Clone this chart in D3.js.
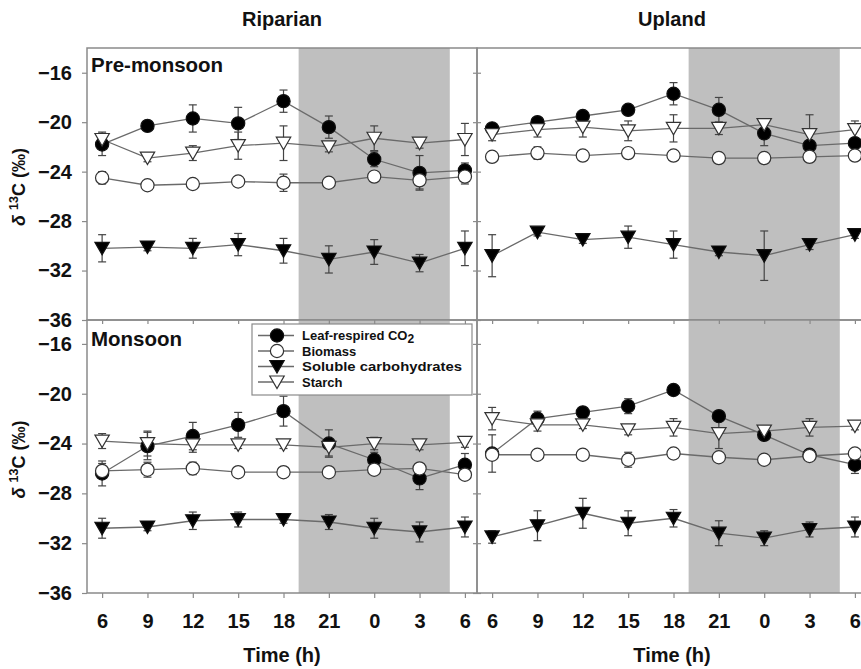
<!DOCTYPE html>
<html>
<head>
<meta charset="utf-8">
<script src="https://cdn.jsdelivr.net/npm/d3@7"></script>
<style>
  html, body { margin: 0; padding: 0; background: #fff; }
  svg { display: block; font-family: Arial, "Liberation Sans", sans-serif; }
</style>
</head>
<body>
<svg id="chart" width="861" height="669"></svg>
<script>
// ---- Data ----
const hours = [6, 9, 12, 15, 18, 21, 24, 27, 30];
const tickLabels = ["6", "9", "12", "15", "18", "21", "0", "3", "6"];
const yTicks = [-16, -20, -24, -28, -32, -36];
const nightStart = 19, nightEnd = 29;
const siteNames = ["Riparian", "Upland"];
const seasonNames = ["Pre-monsoon", "Monsoon"];
const seriesNames = ["Leaf-respired CO2", "Biomass", "Soluble carbohydrates", "Starch"];

// Riparian, pre-monsoon
const ripPreLeaf   = [-21.8, -20.3, -19.7, -20.1, -18.3, -20.4, -23.0, -24.1, -23.9];
const ripPreLeafSE = [0.9, 0.4, 1.1, 1.3, 0.9, 0.9, 0.6, 1.4, 0.6];
const ripPreBio    = [-24.5, -25.1, -25.0, -24.8, -24.9, -24.9, -24.4, -24.7, -24.4];
const ripPreBioSE  = [0.5, 0.3, 0.3, 0.4, 0.7, 0.3, 0.4, 0.7, 0.6];
const ripPreSol    = [-30.2, -30.1, -30.2, -29.9, -30.4, -31.1, -30.5, -31.4, -30.2];
const ripPreSolSE  = [1.1, 0.3, 0.8, 0.9, 1.0, 1.1, 1.0, 0.7, 1.4];
const ripPreSta    = [-21.4, -22.9, -22.5, -21.9, -21.7, -22.0, -21.3, -21.7, -21.4];
const ripPreStaSE  = [0.6, 0.3, 0.6, 1.1, 1.4, 0.4, 1.0, 0.4, 1.3];

// Upland, pre-monsoon
const uplPreLeaf   = [-20.5, -20.0, -19.5, -19.0, -17.7, -19.0, -20.9, -21.9, -21.7];
const uplPreLeafSE = [0.3, 0.3, 0.3, 0.4, 0.9, 1.0, 1.0, 0.4, 0.3];
const uplPreBio    = [-22.8, -22.5, -22.7, -22.5, -22.7, -22.9, -22.9, -22.8, -22.7];
const uplPreBioSE  = [0.4, 0.5, 0.4, 0.4, 0.4, 0.4, 0.4, 0.4, 0.4];
const uplPreSol    = [-30.8, -28.9, -29.5, -29.3, -29.9, -30.5, -30.8, -29.9, -29.1];
const uplPreSolSE  = [1.7, 0.3, 0.3, 0.9, 1.1, 0.3, 2.0, 0.4, 0.3];
const uplPreSta    = [-21.0, -20.6, -20.4, -20.7, -20.5, -20.5, -20.2, -21.0, -20.6];
const uplPreStaSE  = [0.5, 0.6, 0.8, 0.8, 1.1, 0.5, 0.3, 1.6, 0.7];

// Riparian, monsoon
const ripMonLeaf   = [-26.4, -24.2, -23.4, -22.5, -21.4, -24.0, -25.3, -26.8, -25.7];
const ripMonLeafSE = [1.0, 1.1, 1.1, 1.0, 1.2, 1.1, 0.6, 0.9, 0.9];
const ripMonBio    = [-26.2, -26.1, -26.0, -26.3, -26.3, -26.3, -26.1, -26.0, -26.5];
const ripMonBioSE  = [0.6, 0.6, 0.5, 0.4, 0.3, 0.3, 0.3, 0.3, 0.3];
const ripMonSol    = [-30.8, -30.7, -30.2, -30.1, -30.1, -30.3, -30.8, -31.1, -30.7];
const ripMonSolSE  = [0.8, 0.3, 0.7, 0.6, 0.3, 0.6, 0.8, 0.8, 0.8];
const ripMonSta    = [-23.8, -24.0, -24.1, -24.1, -24.1, -24.3, -24.0, -24.1, -23.9];
const ripMonStaSE  = [0.6, 1.0, 0.6, 0.3, 0.3, 0.7, 0.5, 0.4, 0.4];

// Upland, monsoon
const uplMonLeaf   = [-24.8, -22.0, -21.5, -21.0, -19.7, -21.8, -23.3, -24.9, -25.7];
const uplMonLeafSE = [1.5, 0.6, 0.4, 0.6, 0.4, 0.4, 0.4, 0.4, 0.7];
const uplMonBio    = [-24.9, -24.9, -24.9, -25.3, -24.8, -25.1, -25.3, -25.0, -24.8];
const uplMonBioSE  = [0.3, 0.3, 0.3, 0.6, 0.4, 0.3, 0.3, 0.3, 0.3];
const uplMonSol    = [-31.5, -30.6, -29.6, -30.4, -30.0, -31.2, -31.6, -30.9, -30.7];
const uplMonSolSE  = [0.5, 1.2, 1.2, 1.0, 0.7, 1.0, 0.6, 0.6, 0.8];
const uplMonSta    = [-22.0, -22.5, -22.5, -22.9, -22.7, -23.2, -23.0, -22.7, -22.6];
const uplMonStaSE  = [0.9, 0.5, 0.3, 0.4, 0.7, 1.2, 0.3, 0.7, 0.3];

// ---- Build panels ----
function mk(leaf, leafSE, bio, bioSE, sol, solSE, sta, staSE) {
  return [[leaf, leafSE], [bio, bioSE], [sol, solSE], [sta, staSE]];
}
const panelData = [
  [mk(ripPreLeaf, ripPreLeafSE, ripPreBio, ripPreBioSE, ripPreSol, ripPreSolSE, ripPreSta, ripPreStaSE),
   mk(uplPreLeaf, uplPreLeafSE, uplPreBio, uplPreBioSE, uplPreSol, uplPreSolSE, uplPreSta, uplPreStaSE)],
  [mk(ripMonLeaf, ripMonLeafSE, ripMonBio, ripMonBioSE, ripMonSol, ripMonSolSE, ripMonSta, ripMonStaSE),
   mk(uplMonLeaf, uplMonLeafSE, uplMonBio, uplMonBioSE, uplMonSol, uplMonSolSE, uplMonSta, uplMonStaSE)]
];

const svg = d3.select("#chart");
const colX = [87, 477];
const panelW = 390;
const rowY = [[48, 320], [320, 593]];

const x = d3.scaleLinear().domain([5, 30.8]).range([0, panelW]);
const yScales = [
  d3.scaleLinear().domain([-36, -14]).range([320, 48]),
  d3.scaleLinear().domain([-36, -14]).range([593, 319])
];

const frameCol = "#8a8a8a";
const lineCol = "#6a6a6a";
const errCol = "#444";
const shadeCol = "#bfbfbf";

const styles = [
  { type: "circle", fill: "#000", stroke: "#111" },
  { type: "circle", fill: "#fff", stroke: "#333" },
  { type: "tri", fill: "#000", stroke: "#111" },
  { type: "tri", fill: "#fff", stroke: "#333" }
];
const drawOrder = [0, 2, 1, 3];

function drawMarker(g, st, cx, cy) {
  if (st.type === "circle") {
    g.append("circle").attr("cx", cx).attr("cy", cy).attr("r", 6.6)
      .attr("fill", st.fill).attr("stroke", st.stroke).attr("stroke-width", 1.2);
  } else {
    g.append("path")
      .attr("d", `M${cx - 7.2},${cy - 6} L${cx + 7.2},${cy - 6} L${cx},${cy + 6.5} Z`)
      .attr("fill", st.fill).attr("stroke", st.stroke).attr("stroke-width", 1.2)
      .attr("stroke-linejoin", "miter");
  }
}

for (let r = 0; r < 2; r++) {
  const y = yScales[r];
  const [top, bot] = rowY[r];
  for (let c = 0; c < 2; c++) {
    const x0 = colX[c];
    const g = svg.append("g").attr("transform", `translate(${x0},0)`);
    g.append("rect")
      .attr("x", x(nightStart)).attr("y", top)
      .attr("width", x(nightEnd) - x(nightStart)).attr("height", bot - top)
      .attr("fill", shadeCol);

    const series = panelData[r][c];
    const line = d3.line().x((d, i) => x(hours[i])).y(d => y(d));
    drawOrder.forEach(s => {
      g.append("path").datum(series[s][0])
        .attr("d", line).attr("fill", "none")
        .attr("stroke", lineCol).attr("stroke-width", 1.3);
    });
    drawOrder.forEach(s => {
      const vals = series[s][0], se = series[s][1];
      vals.forEach((v, i) => {
        const cx = x(hours[i]);
        const y1 = y(v + se[i]), y2 = y(v - se[i]);
        g.append("line").attr("x1", cx).attr("x2", cx).attr("y1", y1).attr("y2", y2)
          .attr("stroke", errCol).attr("stroke-width", 1.2);
        [y1, y2].forEach(yy => g.append("line")
          .attr("x1", cx - 4).attr("x2", cx + 4).attr("y1", yy).attr("y2", yy)
          .attr("stroke", errCol).attr("stroke-width", 1.2));
      });
    });
    drawOrder.forEach(s => {
      const vals = series[s][0];
      vals.forEach((v, i) => drawMarker(g, styles[s], x(hours[i]), y(v)));
    });

    if (c === 0) {
      const ax = d3.axisLeft(y).tickValues(yTicks).tickSize(4).tickFormat("");
      const ag = g.append("g").attr("transform", `translate(${panelW},0)`).call(ax);
      ag.select(".domain").remove();
      ag.selectAll("line").attr("stroke", frameCol).attr("stroke-width", 1.2);
    } else {
      const ax = d3.axisRight(y).tickValues(yTicks).tickSize(4).tickFormat("");
      const ag = g.append("g").call(ax);
      ag.select(".domain").remove();
      ag.selectAll("line").attr("stroke", frameCol).attr("stroke-width", 1.2);
    }
    if (r === 1) {
      const ax = d3.axisBottom(x).tickValues(hours).tickSize(4).tickFormat("");
      const ag = g.append("g").attr("transform", `translate(0,${top})`).call(ax);
      ag.select(".domain").remove();
      ag.selectAll("line").attr("stroke", frameCol).attr("stroke-width", 1.2);
      const bx = d3.axisBottom(x).tickValues(hours).tickSize(5).tickPadding(16)
        .tickFormat((d, i) => tickLabels[i]);
      const bg = g.append("g").attr("transform", `translate(0,${bot})`).call(bx);
      bg.select(".domain").remove();
      bg.selectAll("line").attr("stroke", frameCol).attr("stroke-width", 1.2);
      bg.selectAll("text").attr("font-size", 20).attr("font-weight", "bold")
        .attr("fill", "#111").attr("font-family", "Arial, 'Liberation Sans', sans-serif");
      g.append("text").attr("x", panelW / 2).attr("y", 662)
        .attr("text-anchor", "middle").attr("font-size", 20).attr("font-weight", "bold")
        .attr("fill", "#111").text("Time (h)");
    }
    g.append("rect").attr("x", 0).attr("y", top).attr("width", panelW).attr("height", bot - top)
      .attr("fill", "none").attr("stroke", frameCol).attr("stroke-width", 1.5);
  }

  const ya = d3.axisLeft(y).tickValues(yTicks).tickSize(5).tickPadding(10);
  const yg = svg.append("g").attr("transform", `translate(${colX[0]},0)`).call(ya);
  yg.select(".domain").remove();
  yg.selectAll("line").attr("stroke", frameCol).attr("stroke-width", 1.2);
  yg.selectAll("text").attr("font-size", 20).attr("font-weight", "bold")
    .attr("fill", "#111").attr("font-family", "Arial, 'Liberation Sans', sans-serif");

  svg.append("text").attr("x", colX[0] + 4).attr("y", r === 0 ? 72 : 346)
    .attr("font-size", 20.5).attr("font-weight", "bold").attr("fill", "#111")
    .text(seasonNames[r]);

  const cy = (top + bot) / 2;
  const t = svg.append("text")
    .attr("transform", `translate(25,${cy + 3}) rotate(-90)`)
    .attr("text-anchor", "middle").attr("font-size", 18).attr("font-weight", "bold").attr("fill", "#111");
  t.append("tspan").attr("font-style", "italic").text("δ");
  t.append("tspan").text(" ");
  t.append("tspan").attr("font-size", 12.5).attr("dy", -7).text("13");
  t.append("tspan").attr("dy", 7).text("C (‰)");
}

siteNames.forEach((name, c) => {
  svg.append("text").attr("x", colX[c] + 195).attr("y", 26)
    .attr("text-anchor", "middle").attr("font-size", 20).attr("font-weight", "bold")
    .attr("fill", "#111").text(name);
});

// legend
const lg = svg.append("g");
lg.append("rect").attr("x", 252).attr("y", 324).attr("width", 220).attr("height", 71)
  .attr("fill", "#fff").attr("stroke", frameCol).attr("stroke-width", 1.2);
const legY = [335.5, 351, 366.5, 382];
const legTextW = [null, null, 160, null];
seriesNames.forEach((name, i) => {
  const yy = legY[i];
  lg.append("line").attr("x1", 258).attr("x2", 294).attr("y1", yy).attr("y2", yy)
    .attr("stroke", lineCol).attr("stroke-width", 1.3);
  drawMarker(lg, styles[i], 277, yy);
  const tx = lg.append("text").attr("x", 302).attr("y", yy + 4.5)
    .attr("font-size", 13).attr("font-weight", "bold").attr("fill", "#111");
  if (name.endsWith("CO2")) {
    tx.append("tspan").text(name.slice(0, -1));
    tx.append("tspan").attr("dy", 3).attr("font-size", 12).text("2");
  } else {
    tx.text(name);
  }
  if (legTextW[i]) tx.attr("textLength", legTextW[i]).attr("lengthAdjust", "spacingAndGlyphs");
});
</script>
</body>
</html>
